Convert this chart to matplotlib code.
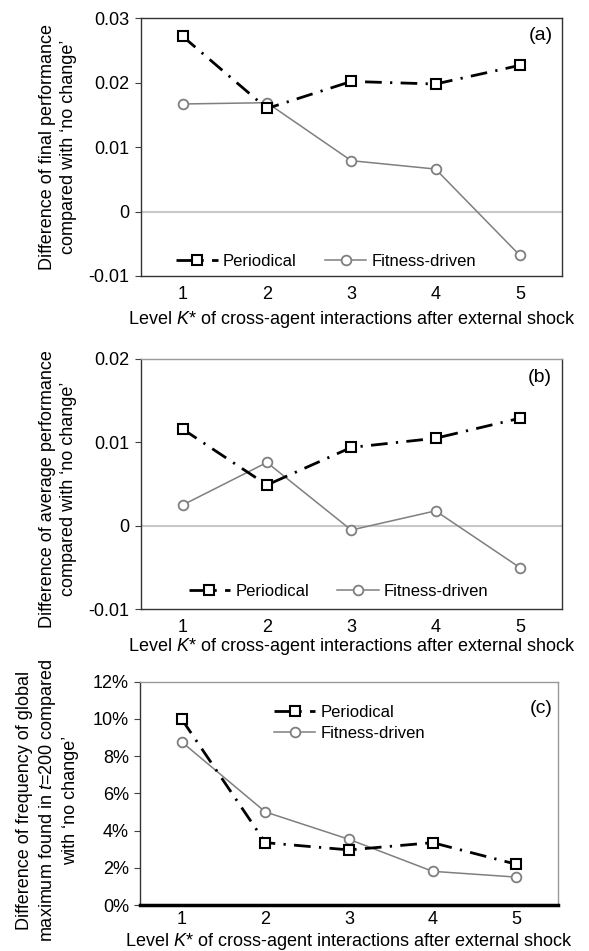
import numpy as np
from matplotlib import pyplot as plt

plt.rcParams['font.family'] = ['Liberation Sans', 'DejaVu Sans']
plt.rcParams['mathtext.fontset'] = 'custom'
plt.rcParams['mathtext.rm'] = 'Liberation Sans'
plt.rcParams['mathtext.it'] = 'Liberation Sans:italic'

levels = [1, 2, 3, 4, 5]

final_periodical = [0.0272, 0.0160, 0.0202, 0.0198, 0.0227]
final_fitness = [0.0167, 0.0169, 0.0079, 0.0066, -0.0068]

avg_periodical = [0.0116, 0.0049, 0.0094, 0.0105, 0.0129]
avg_fitness = [0.0025, 0.0076, -0.0005, 0.0018, -0.0050]

freq_periodical = [9.98, 3.35, 2.96, 3.35, 2.19]
freq_fitness = [8.76, 5.0, 3.53, 1.81, 1.5]

ticks_a = [-0.01, 0, 0.01, 0.02, 0.03]
labels_a = ["-0.01", "0", "0.01", "0.02", "0.03"]
ticks_b = [-0.01, 0, 0.01, 0.02]
labels_b = ["-0.01", "0", "0.01", "0.02"]
ticks_c = [0, 2, 4, 6, 8, 10, 12]
labels_c = ["0%", "2%", "4%", "6%", "8%", "10%", "12%"]

xlabel = "Level $K$* of cross-agent interactions after external shock"
FS = 13
LFS = 12
dash = (0, (6, 3, 0.8, 3))

fig = plt.figure(figsize=(5.89, 9.51), dpi=100)
ax_a = fig.add_axes([140.5/589, 1-276/951, 421.5/589, 257.7/951])
ax_b = fig.add_axes([140.5/589, 1-609.3/951, 421.5/589, 250.3/951])
ax_c = fig.add_axes([140/589, 1-905/951, 418/589, 223.3/951])


def draw(ax, per, fit, zero_line):
    if zero_line:
        ax.axhline(0, color="#c8c8c8", lw=1.5, zorder=1)
    ax.plot(levels, fit, color="#7f7f7f", lw=1.1, marker="o", ms=7,
            mfc="white", mec="#7f7f7f", mew=1.3, label="Fitness-driven", zorder=2)
    ax.plot(levels, per, color="black", lw=2, linestyle=dash, marker="s", ms=7,
            mfc="white", mec="black", mew=1.5, label="Periodical", zorder=3)
    ax.set_xlim(0.5, 5.5)
    ax.set_xticks(levels)
    ax.tick_params(axis="x", length=0, labelsize=FS, pad=7)
    ax.tick_params(axis="y", length=4, width=0.8, direction="out", labelsize=FS, pad=4, color="#404040")
    for s in ax.spines.values():
        s.set_color("#333333")
        s.set_linewidth(1.0)


def legend_row(ax, x, y):
    h, l = ax.get_legend_handles_labels()
    ax.legend(h[::-1], l[::-1], loc="center", ncol=2, frameon=False, fontsize=LFS,
              handlelength=2.5, columnspacing=1.7, handletextpad=0.3, borderpad=0,
              bbox_to_anchor=(x, y))


draw(ax_a, final_periodical, final_fitness, True)
ax_a.set_ylim(-0.01, 0.03)
ax_a.set_yticks(ticks_a)
ax_a.set_yticklabels(labels_a)
ax_a.set_ylabel("Difference of final performance\ncompared with \u2018no change\u2019",
                fontsize=FS, va="center", linespacing=1.3)
ax_a.yaxis.set_label_coords(-0.195, 0.5)
ax_a.set_xlabel(xlabel, fontsize=FS, va="center")
ax_a.xaxis.set_label_coords(0.5, -44/257.7)
ax_a.text(0.979, 0.935, "(a)", transform=ax_a.transAxes, ha="right", va="center", fontsize=FS + 1)
legend_row(ax_a, 0.44, 0.058)

draw(ax_b, avg_periodical, avg_fitness, True)
ax_b.set_ylim(-0.01, 0.02)
ax_b.set_yticks(ticks_b)
ax_b.set_yticklabels(labels_b)
ax_b.spines["top"].set_color("#999999")
ax_b.set_ylabel("Difference of average performance\ncompared with \u2018no change\u2019",
                fontsize=FS, va="center", linespacing=1.3)
ax_b.yaxis.set_label_coords(-0.195, 0.48)
ax_b.set_xlabel(xlabel, fontsize=FS, va="center")
ax_b.xaxis.set_label_coords(0.5, -37.4/250.3)
ax_b.text(0.976, 0.927, "(b)", transform=ax_b.transAxes, ha="right", va="center", fontsize=FS + 1)
legend_row(ax_b, 0.47, 0.07)

draw(ax_c, freq_periodical, freq_fitness, False)
ax_c.set_ylim(0, 12)
ax_c.set_yticks(ticks_c)
ax_c.set_yticklabels(labels_c)
ax_c.tick_params(axis="x", pad=4)
ax_c.set_ylabel("Difference of frequency of global\nmaximum found in $t$=200 compared\nwith \u2018no change\u2019",
                fontsize=FS, va="center", linespacing=1.3)
ax_c.yaxis.set_label_coords(-0.221, 0.47)
ax_c.set_xlabel(xlabel, fontsize=FS, va="center")
ax_c.xaxis.set_label_coords(0.5, -37/223.3)
ax_c.text(0.988, 0.881, "(c)", transform=ax_c.transAxes, ha="right", va="center", fontsize=FS + 1)
ax_c.spines["top"].set_color("#999999")
ax_c.spines["right"].set_color("#999999")
ax_c.spines["bottom"].set_color("black")
ax_c.spines["bottom"].set_linewidth(2.5)
h, l = ax_c.get_legend_handles_labels()
ax_c.legend(h[::-1], l[::-1], loc="center left", frameon=False, fontsize=LFS,
            handlelength=2.5, handletextpad=0.3, labelspacing=0.35, borderpad=0,
            borderaxespad=0, bbox_to_anchor=(0.32, 0.815))

fig.savefig("out.png", dpi=100)
